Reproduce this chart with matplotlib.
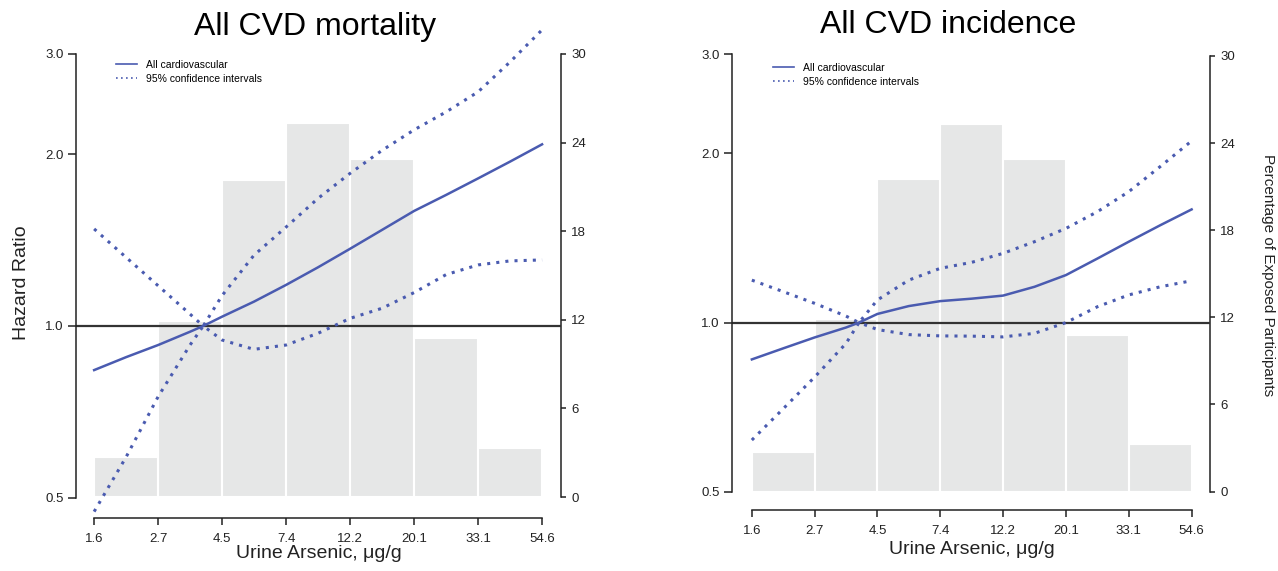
import matplotlib
matplotlib.use("Agg")
import matplotlib.pyplot as plt
import numpy as np
from matplotlib.ticker import NullLocator, NullFormatter

plt.rcParams['font.family'] = ['Liberation Sans', 'DejaVu Sans']

# histogram bins (urine arsenic, ug/g) and share of participants per bin (%)
bin_edges = [1.65, 2.72, 4.48, 7.39, 12.18, 20.09, 33.12, 54.60]
tick_labels = ["1.6", "2.7", "4.5", "7.4", "12.2", "20.1", "33.1", "54.6"]
pct_exposed = [2.7, 11.9, 21.5, 25.3, 22.9, 10.8, 3.3]

# arsenic values where the spline curves were read
arsenic = [1.65, 2.12, 2.72, 3.49, 3.87, 4.48, 5.75, 7.39, 9.49, 12.18,
           15.64, 20.09, 25.79, 33.12, 42.52, 54.60]

# All CVD mortality
mort_hr = [0.837, 0.882, 0.926, 0.977, 1.0, 1.038, 1.103, 1.18, 1.267, 1.365,
           1.473, 1.59, 1.696, 1.813, 1.94, 2.08]
mort_lo = [0.473, 0.59, 0.752, 0.926, 1.0, 0.945, 0.91, 0.926, 0.971, 1.031,
           1.074, 1.144, 1.23, 1.279, 1.30, 1.305]
mort_hi = [1.479, 1.318, 1.176, 1.049, 1.0, 1.13, 1.33, 1.49, 1.673, 1.85,
           2.03, 2.205, 2.37, 2.57, 2.9, 3.30]

# All CVD incidence
inc_hr = [0.86, 0.90, 0.941, 0.98, 1.0, 1.036, 1.07, 1.092, 1.103, 1.117,
          1.158, 1.215, 1.30, 1.393, 1.49, 1.59]
inc_lo = [0.618, 0.703, 0.80, 0.918, 1.0, 0.972, 0.952, 0.947, 0.946, 0.943,
          0.957, 1.0, 1.067, 1.12, 1.158, 1.187]
inc_hi = [1.19, 1.135, 1.082, 1.027, 1.0, 1.097, 1.19, 1.249, 1.28, 1.328,
          1.393, 1.471, 1.575, 1.71, 1.895, 2.105]

blue = '#4a5bb0'
bar_col = '#e6e7e7'
dark = '#222222'

fig = plt.figure(figsize=(12.78, 5.71), dpi=100)


def panel(rect, hr, lo, hi, hr_lim, pct_lim, xlim, leg_xy):
    ax = fig.add_axes(rect)
    axr = ax.twinx()
    ax.set_zorder(axr.get_zorder() + 1)
    ax.patch.set_visible(False)

    ax.set_xscale('log')
    ax.set_yscale('log')
    ax.set_xlim(*xlim)
    ax.set_ylim(*hr_lim)
    axr.set_ylim(*pct_lim)

    axr.bar(bin_edges[:-1], pct_exposed, width=np.diff(bin_edges), align='edge',
            color=bar_col, edgecolor='white', linewidth=1.5)

    ax.axhline(1.0, color='#333333', lw=1.6, zorder=1)
    ax.plot(arsenic, hr, color=blue, lw=1.8, clip_on=False,
            label='All cardiovascular')
    ax.plot(arsenic, lo, color=blue, lw=2.2, ls=(0, (1, 2)), clip_on=False,
            label='95% confidence intervals')
    ax.plot(arsenic, hi, color=blue, lw=2.2, ls=(0, (1, 2)), clip_on=False)

    leg = ax.legend(loc='upper left', bbox_to_anchor=leg_xy,
                    bbox_transform=fig.transFigure, frameon=False, fontsize=7.5,
                    handlelength=2.0, handletextpad=0.85, labelspacing=0.35,
                    borderpad=0, borderaxespad=0)
    for h in leg.legend_handles:
        h.set_linewidth(1.2)

    ax.set_xticks(bin_edges)
    ax.set_xticklabels(tick_labels)
    ax.xaxis.set_minor_locator(NullLocator())
    ax.xaxis.set_minor_formatter(NullFormatter())
    ax.set_yticks([0.5, 1.0, 2.0, 3.0])
    ax.set_yticklabels(['0.5', '1.0', '2.0', '3.0'])
    ax.yaxis.set_minor_locator(NullLocator())
    ax.yaxis.set_minor_formatter(NullFormatter())
    axr.set_yticks([0, 6, 12, 18, 24, 30])

    for s in ['top', 'right']:
        ax.spines[s].set_visible(False)
    for s in ['top', 'left', 'bottom']:
        axr.spines[s].set_visible(False)
    ax.spines['bottom'].set_bounds(bin_edges[0], bin_edges[-1])
    ax.spines['left'].set_bounds(0.5, 3.0)
    axr.spines['right'].set_bounds(0, 30)
    for sp in [ax.spines['bottom'], ax.spines['left'], axr.spines['right']]:
        sp.set_linewidth(1.1)
        sp.set_color(dark)

    ax.tick_params(axis='y', direction='out', length=6, width=1.1, pad=3,
                   labelsize=9.5, color=dark, labelcolor=dark)
    ax.tick_params(axis='x', direction='out', length=5, width=1.1, pad=6,
                   labelsize=9.5, color=dark, labelcolor=dark)
    axr.tick_params(axis='y', direction='out', length=3.5, width=1.1, pad=4,
                    labelsize=9.5, color=dark, labelcolor=dark)
    return ax


W, H = 1278.0, 571.0

# left panel: axes box spans pixels x 76..561, y 20..518
panel([76 / W, 1 - 518 / H, 485 / W, 498 / H], mort_hr, mort_lo, mort_hi,
      (0.461, 3.434), (-1.42, 32.3), (1.432, 63.3), (116 / W, 1 - 60 / H))

# right panel: axes box spans pixels x 732..1210, y 20..510
panel([732 / W, 1 - 510 / H, 478 / W, 490 / H], inc_hr, inc_lo, inc_hi,
      (0.464, 3.455), (-1.27, 32.47), (1.409, 63.2), (773 / W, 1 - 63 / H))

fig.text(315 / W, 1 - 27 / H, 'All CVD mortality', fontsize=23,
         ha='center', va='center')
fig.text(948 / W, 1 - 25 / H, 'All CVD incidence', fontsize=23,
         ha='center', va='center')

fig.text(22 / W, 1 - 283 / H, 'Hazard Ratio', fontsize=14, rotation=90,
         ha='center', va='center', color=dark)
fig.text(319 / W, 1 - 553 / H, 'Urine Arsenic, \u03bcg/g', fontsize=14,
         ha='center', va='center', color=dark)
fig.text(972 / W, 1 - 549 / H, 'Urine Arsenic, \u03bcg/g', fontsize=14,
         ha='center', va='center', color=dark)
fig.text(1268 / W, 1 - 275 / H, 'Percentage of Exposed Participants',
         fontsize=11, rotation=270, ha='center', va='center', color=dark)

fig.savefig('out.png', dpi=100)
